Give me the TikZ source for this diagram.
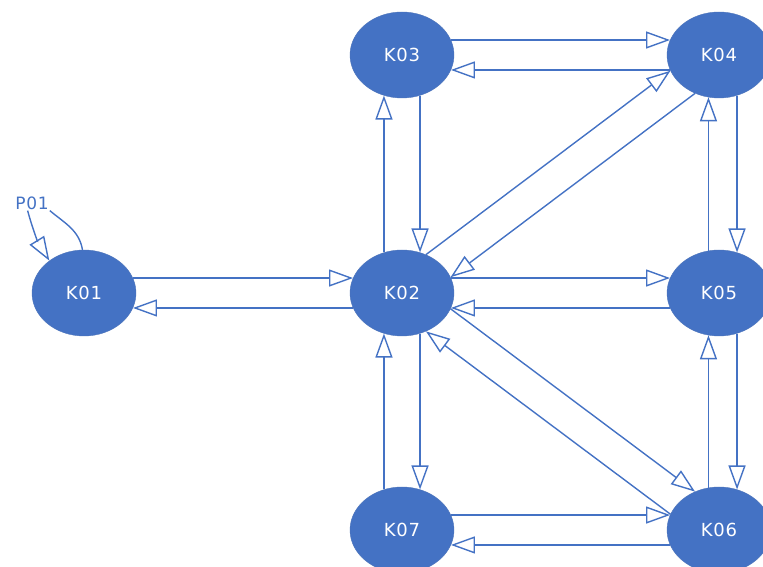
\documentclass[tikz,border=0pt]{standalone}
\usepackage{fontspec}
\setmainfont{DejaVu Sans}
\newfontfamily\knfont[LetterSpace=4]{DejaVu Sans}
\usetikzlibrary{shapes.geometric, arrows.meta}
\definecolor{kblue}{HTML}{4472C4}
\tikzset{
  knode/.style = {ellipse, fill=kblue, draw=kblue!85!gray,
                  text=white, inner sep=0pt,
                  minimum width=104pt, minimum height=86pt,
                  font=\knfont\fontsize{18}{18}\selectfont},
  plbl/.style  = {text=kblue, inner sep=1pt,
                  font=\knfont\fontsize{17}{17}\selectfont},
  arr/.style   = {-{Triangle[open, length=24pt, width=17pt]},
                  draw=kblue, line width=1.4pt},
  loopl/.style = {draw=kblue, line width=1.4pt},
}

\begin{document}
\begin{tikzpicture}[x=1pt, y=1pt]
\useasboundingbox (0,0) rectangle (763,567);

% ────────────────────────────────────────────────────────────
%  Grid of states (1 unit = 1 px of the sketch, y upwards)
%   left column   : x =  84   (K01)
%   middle column : x = 402   (K03, K02, K07)
%   right column  : x = 719   (K04, K05, K06)
% ────────────────────────────────────────────────────────────
\node[knode] (k01) at ( 84, 274) {K01};
\node[knode] (k02) at (402, 274) {K02};
\node[knode] (k03) at (402, 512) {K03};
\node[knode] (k04) at (719, 512) {K04};
\node[knode] (k05) at (719, 274) {K05};
\node[knode] (k06) at (719,  37) {K06};
\node[knode] (k07) at (402,  37) {K07};

\node[plbl] (p01) at (32, 364) {P01};

% ── self loop on K01 ────────────────────────────────────────
\draw[loopl] (k01.92) to[out=100, in=-40] (p01.south east);
\draw[arr]   (p01.240) to[bend right=8] (k01.137);

% ── horizontal pairs ────────────────────────────────────────
\draw[arr] (k01.17)   -- (k02.163);
\draw[arr] (k02.-163) -- (k01.-17);

\draw[arr] (k03.17)   -- (k04.163);
\draw[arr] (k04.-163) -- (k03.-17);

\draw[arr] (k02.17)   -- (k05.163);
\draw[arr] (k05.-163) -- (k02.-17);

\draw[arr] (k07.17)   -- (k06.163);
\draw[arr] (k06.-163) -- (k07.-17);

% ── vertical pairs ──────────────────────────────────────────
\draw[arr] (k02.114)  -- (k03.-114);
\draw[arr] (k03.-66)  -- (k02.66);

\draw[arr] (k02.-66)  -- (k07.66);
\draw[arr] (k07.114)  -- (k02.-114);

\draw[arr] (k04.-66)  -- (k05.66);
\draw[arr] (k05.104)  -- (k04.-104);

\draw[arr] (k05.-66)  -- (k06.66);
\draw[arr] (k06.104)  -- (k05.-104);

% ── diagonals ───────────────────────────────────────────────
\draw[arr] (k02.58)   -- (k04.198);
\draw[arr] (k04.238)  -- (k02.18);

\draw[arr] (k02.-18)  -- (k06.122);
\draw[arr] (k06.162)  -- (k02.-58);

\end{tikzpicture}
\end{document}
